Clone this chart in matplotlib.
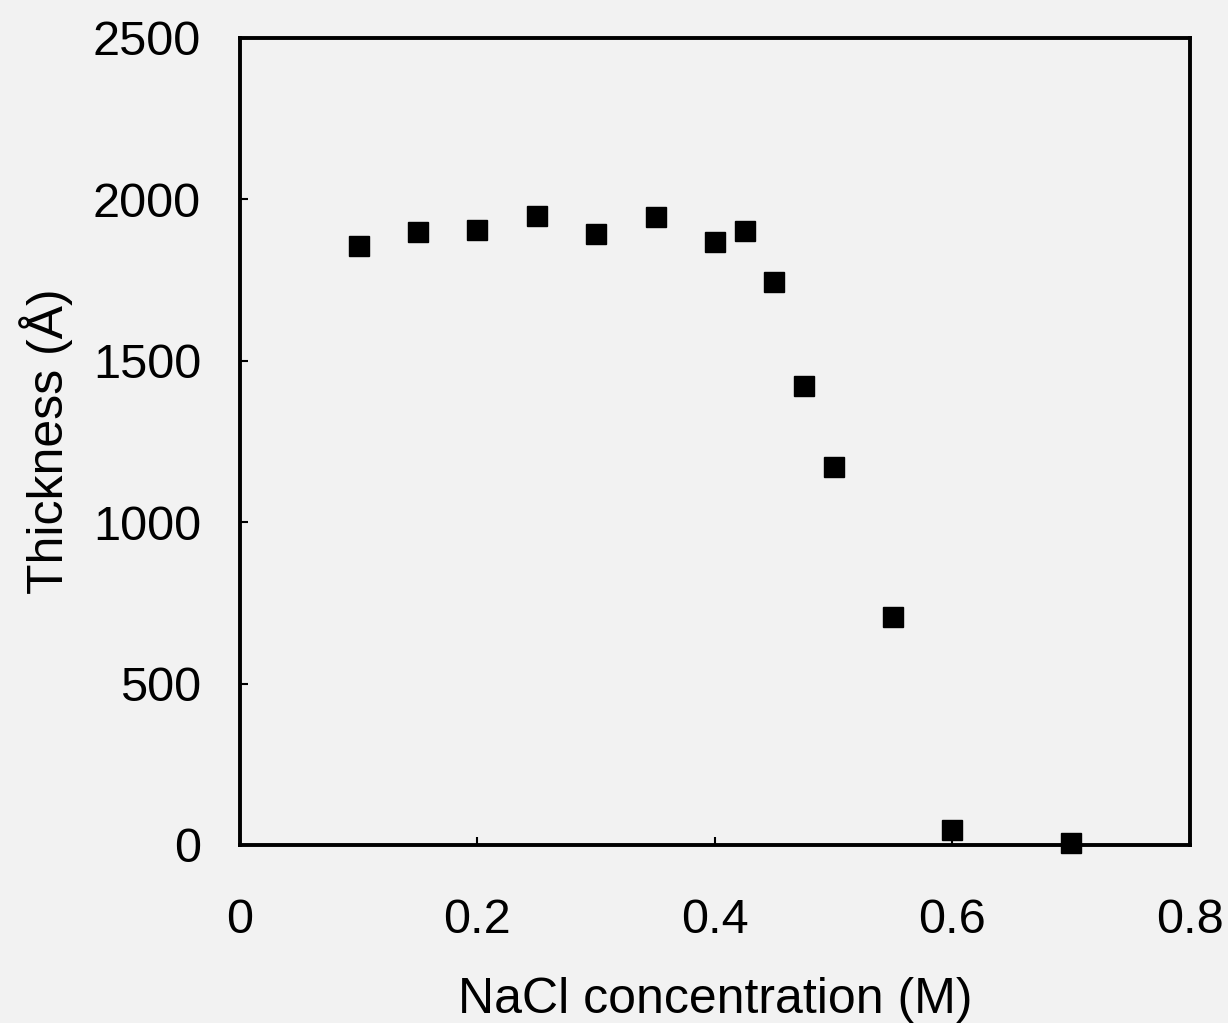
import matplotlib.pyplot as plt

plt.rcParams['font.family'] = ['Liberation Sans', 'DejaVu Sans']

# NaCl concentration (M) and film thickness (Angstrom)
nacl = [0.1, 0.15, 0.2, 0.25, 0.3, 0.35, 0.4, 0.425, 0.45, 0.475, 0.5, 0.55, 0.6, 0.7]
thickness = [1855, 1899, 1905, 1949, 1893, 1945, 1868, 1902, 1744, 1422, 1171, 706, 46, 6]

x_ticks = [0, 0.2, 0.4, 0.6, 0.8]
x_labels = ['0', '0.2', '0.4', '0.6', '0.8']
y_ticks = [0, 500, 1000, 1500, 2000, 2500]

fig = plt.figure(figsize=(12.28, 10.23), dpi=100, facecolor='#f2f2f2')
ax = fig.add_axes([0.1954, 0.174, 0.7736, 0.789])
ax.set_facecolor('#f2f2f2')

ax.plot(nacl, thickness, 's', color='black', markersize=14.5, clip_on=False)

ax.set_xlim(0, 0.8)
ax.set_ylim(0, 2500)
ax.set_xticks(x_ticks)
ax.set_xticklabels(x_labels)
ax.set_yticks(y_ticks)
ax.tick_params(direction='in', length=6, width=1.5, labelsize=35)
ax.tick_params(axis='x', pad=38)
ax.tick_params(axis='y', pad=28)
for s in ax.spines.values():
    s.set_linewidth(2.8)

ax.set_xlabel('NaCl concentration (M)', fontsize=36, labelpad=25)
ax.set_ylabel('Thickness (Å)', fontsize=36, labelpad=14)

fig.savefig('out.png', dpi=100, facecolor=fig.get_facecolor())
